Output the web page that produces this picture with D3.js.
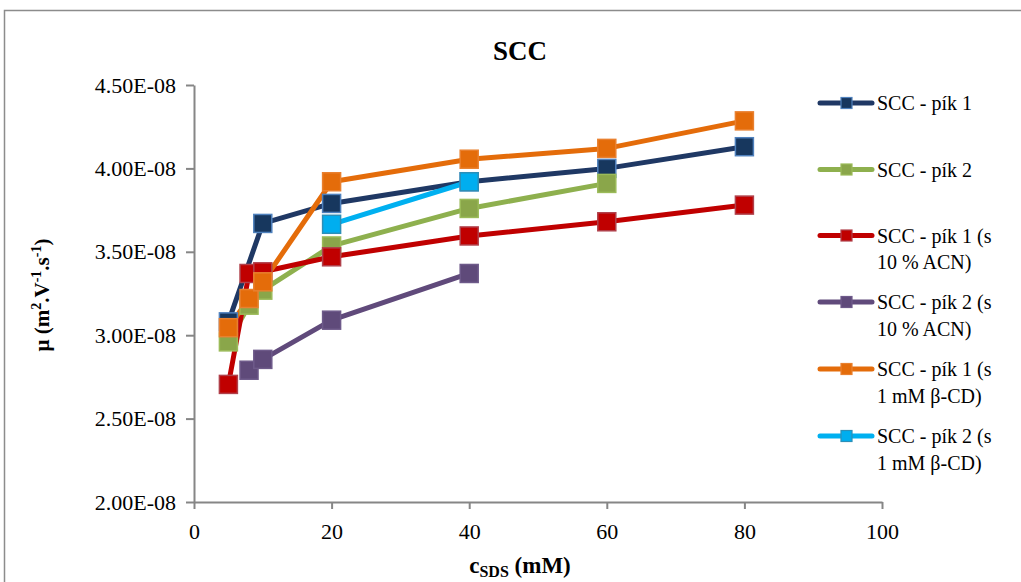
<!DOCTYPE html>
<html><head><meta charset="utf-8">
<script src="https://cdn.jsdelivr.net/npm/d3@7"></script>
<style>body{margin:0;background:#fff;} svg{display:block;} text{font-family:"Liberation Serif","Times New Roman",serif;}</style>
</head><body>
<svg id="c" width="1021" height="582"></svg>
<script>
const seriesNames = ["SCC - pík 1","SCC - pík 2","SCC - pík 1 (s|10 % ACN)","SCC - pík 2 (s|10 % ACN)","SCC - pík 1 (s|1 mM β-CD)","SCC - pík 2 (s|1 mM β-CD)"];
const lineColors = ["#1F3864","#8EB04E","#C00000","#604A7B","#E46C0A","#00B0F0"];
const markerFill = ["#17375E","#8AA64A","#C00000","#5F4A7A","#E46C0A","#00AEEF"];
const markerStroke = ["#4F81BD","#9BBB59","#B0404A","#6E5A8A","#E9802F","#2C8FB8"];
const x1 = [5,10,20,40,60,80];   const y1 = [3.08e-8,3.67e-8,3.79e-8,3.92e-8,4.00e-8,4.13e-8];
const x2 = [5,8,10,20,40,60];    const y2 = [2.96e-8,3.18e-8,3.27e-8,3.535e-8,3.76e-8,3.91e-8];
const x3 = [5,8,10,20,40,60,80]; const y3 = [2.705e-8,3.37e-8,3.38e-8,3.47e-8,3.595e-8,3.68e-8,3.78e-8];
const x4 = [8,10,20,40];         const y4 = [2.79e-8,2.855e-8,3.09e-8,3.37e-8];
const x5 = [5,8,10,20,40,60,80]; const y5 = [3.045e-8,3.22e-8,3.32e-8,3.92e-8,4.055e-8,4.12e-8,4.285e-8];
const x6 = [20,40];              const y6 = [3.665e-8,3.92e-8];
const xs = [x1,x2,x3,x4,x5,x6], ys = [y1,y2,y3,y4,y5,y6];
const xTicks = [0,20,40,60,80,100];
const yTicks = [2.0e-8,2.5e-8,3.0e-8,3.5e-8,4.0e-8,4.5e-8];
const yTickLabels = ["2.00E-08","2.50E-08","3.00E-08","3.50E-08","4.00E-08","4.50E-08"];

const FONT = "Liberation Serif, Times New Roman, serif";
const svg = d3.select("#c").attr("font-family",FONT);
svg.append("rect").attr("x",4.5).attr("y",10.5).attr("width",1100).attr("height",700)
  .attr("fill","none").attr("stroke","#8c8c8c").attr("stroke-width",1.5);

const x = d3.scaleLinear().domain([0,100]).range([194,882]);
const y = d3.scaleLinear().domain([2.0e-8,4.5e-8]).range([502,85]);

const axisColor = "#868686";
const gx = svg.append("g").attr("transform","translate(0,502)")
  .call(d3.axisBottom(x).tickValues(xTicks).tickSize(7).tickPadding(14).tickSizeOuter(0));
const gy = svg.append("g").attr("transform","translate(194,0)")
  .call(d3.axisLeft(y).tickValues(yTicks).tickSize(8).tickPadding(10).tickSizeOuter(0)
    .tickFormat((d,i)=>yTickLabels[i]));
[gx,gy].forEach(g=>{
  g.attr("font-family",FONT);
  g.selectAll("path,line").attr("stroke",axisColor).attr("stroke-width",2);
  g.selectAll("text").attr("fill","#000").attr("font-size","22px");
});

const line = d3.line().x(d=>x(d[0])).y(d=>y(d[1]));
const plot = svg.append("g");
xs.forEach((xa,i)=>{
  const pts = xa.map((v,j)=>[v,ys[i][j]]);
  plot.append("path").datum(pts).attr("d",line).attr("fill","none")
    .attr("stroke",lineColors[i]).attr("stroke-width",5).attr("stroke-linejoin","round").attr("stroke-linecap","round");
});
xs.forEach((xa,i)=>{
  const pts = xa.map((v,j)=>[v,ys[i][j]]);
  plot.selectAll(null).data(pts).enter().append("rect")
    .attr("x",d=>x(d[0])-9).attr("y",d=>y(d[1])-9).attr("width",18).attr("height",18)
    .attr("fill",markerFill[i]).attr("stroke",markerStroke[i]).attr("stroke-width",1.5);
});

svg.append("text").attr("x",520).attr("y",60).attr("text-anchor","middle")
  .attr("font-size","27px").attr("font-weight","bold").text("SCC");

// y title
const yt = svg.append("text").attr("transform","translate(49,295) rotate(-90)")
  .attr("text-anchor","middle").attr("font-size","21px").attr("font-weight","bold");
yt.append("tspan").text("μ (m");
yt.append("tspan").attr("font-size","14px").attr("dy","-8").text("2");
yt.append("tspan").attr("dy","8").text(".V");
yt.append("tspan").attr("font-size","14px").attr("dy","-8").text("-1");
yt.append("tspan").attr("dy","8").text(".s");
yt.append("tspan").attr("font-size","14px").attr("dy","-8").text("-1");
yt.append("tspan").attr("dy","8").text(")");

const xt = svg.append("text").attr("x",520).attr("y",573).attr("text-anchor","middle")
  .attr("font-size","23px").attr("font-weight","bold");
xt.append("tspan").text("c");
xt.append("tspan").attr("font-size","16px").attr("dy","4").text("SDS");
xt.append("tspan").attr("dy","-4").text(" (mM)");

// legend
const legY = [103,169.5,235.5,302,369,436];
seriesNames.forEach((n,i)=>{
  const g = svg.append("g").attr("transform",`translate(0,${legY[i]})`);
  g.append("line").attr("x1",820).attr("x2",872).attr("y1",0).attr("y2",0)
    .attr("stroke",lineColors[i]).attr("stroke-width",5).attr("stroke-linecap","round");
  g.append("rect").attr("x",841).attr("y",-5.5).attr("width",11).attr("height",11)
    .attr("fill",markerFill[i]).attr("stroke",markerStroke[i]).attr("stroke-width",1.2);
  const parts = n.split("|");
  parts.forEach((p,k)=>{
    g.append("text").attr("x",877).attr("y",7+k*26.5).attr("font-size","20px").text(p);
  });
});
</script>
</body></html>
